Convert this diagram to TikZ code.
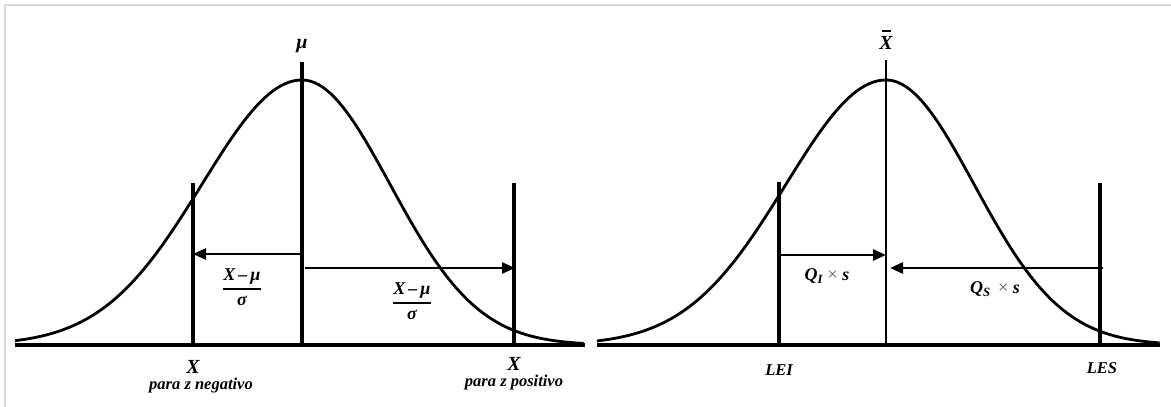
\documentclass[tikz,border=0pt]{standalone}
\usepackage{amsmath}
\usepackage{fontspec}
\setmainfont{Liberation Serif}
\usetikzlibrary{arrows.meta}
\begin{document}
\begin{tikzpicture}[x=1pt,y=-1pt,
  axisline/.style={line width=3.5pt},
  vline/.style={line width=3.3pt},
  meanline/.style={line width=3.3pt},
  curve/.style={line width=2.8pt, line join=round},
  arr/.style={line width=2.8pt,-{Triangle[length=13pt,width=11pt]}},
  lbl/.style={font=\bfseries\itshape\fontsize{20}{20}\selectfont, inner sep=0pt},
  fraclbl/.style={font=\bfseries\itshape\fontsize{18}{18}\selectfont, inner sep=0pt},
  sublbl/.style={font=\bfseries\itshape\fontsize{16.5}{17}\selectfont, inner sep=0pt},
  frame/.style={draw=gray!30, line width=2pt}]
\useasboundingbox (0,0) rectangle (1171,407);
\draw[frame] (5,412) -- (5,5) -- (1176,5);

% ---------- left panel ----------
\coordinate (a1l) at (15,345);
\coordinate (a1r) at (585,345);
\draw[axisline] (a1l) -- (a1r);
\draw[curve] plot[domain=-2.87:0, samples=70, variable=\t] ({302+100*\t},{345-265*exp(-\t*\t/2)})
  -- plot[domain=0:3.2, samples=70, variable=\t] ({302+88*\t},{345-265*exp(-\t*\t/2)});
\coordinate (m1t) at (302,62);
\coordinate (m1b) at (302,345);
\draw[meanline] (m1t) -- (m1b);
\coordinate (x1t) at (193,183);
\coordinate (x1b) at (193,345);
\draw[vline] (x1t) -- (x1b);
\coordinate (x2t) at (514,183);
\coordinate (x2b) at (514,345);
\draw[vline] (x2t) -- (x2b);
\coordinate (l1s) at (302,254);
\coordinate (l1e) at (193,254);
\draw[arr] (l1s) -- (l1e);
\coordinate (r1s) at (305,268);
\coordinate (r1e) at (515,268);
\draw[arr] (r1s) -- (r1e);

\node[lbl] (mu) at (302,46) {μ};
\node[fraclbl] (f1) at (242,287) {$\genfrac{}{}{1.4pt}{0}{\mbox{X\,–\,μ}}{\mbox{σ}}$};
\node[fraclbl] (f2) at (412,301) {$\genfrac{}{}{1.4pt}{0}{\mbox{X\,–\,μ}}{\mbox{σ}}$};
\node[lbl] (xneg) at (193,367) {X};
\node[sublbl] (pneg) at (201,386) {para z negativo};
\node[lbl] (xpos) at (514,364) {X};
\node[sublbl] (ppos) at (514,383) {para z positivo};

% ---------- right panel ----------
\coordinate (a2l) at (597,345);
\coordinate (a2r) at (1160,345);
\draw[axisline] (a2l) -- (a2r);
\draw[curve] plot[domain=-2.89:0, samples=70, variable=\t] ({886+100*\t},{345-265*exp(-\t*\t/2)})
  -- plot[domain=0:3.11, samples=70, variable=\t] ({886+88*\t},{345-265*exp(-\t*\t/2)});
\coordinate (m2t) at (886,60);
\coordinate (m2b) at (886,345);
\draw[line width=2.4pt] (m2t) -- (m2b);
\coordinate (leit) at (779,182);
\coordinate (leib) at (779,345);
\draw[vline] (leit) -- (leib);
\coordinate (lest) at (1100,183);
\coordinate (lesb) at (1100,345);
\draw[vline] (lest) -- (lesb);
\coordinate (qis) at (779,255);
\coordinate (qie) at (886,255);
\draw[arr] (qis) -- (qie);
\coordinate (qss) at (1103,268);
\coordinate (qse) at (890,268);
\draw[arr] (qss) -- (qse);

\node[lbl, anchor=base] (xbar) at (886,49) {\shortstack{\rule{9pt}{1.6pt}\\[1pt]X}};
\node[fraclbl] (qi) at (827,276) {Q\textsubscript{I} {\mdseries\upshape\color{black!65}×} s};
\node[fraclbl] (qs) at (995,289) {Q\textsubscript{S}\, {\mdseries\upshape\color{black!65}×} s};
\node[sublbl] (lei) at (779,370) {LEI};
\node[sublbl] (les) at (1102,368) {LES};
\end{tikzpicture}
\end{document}
